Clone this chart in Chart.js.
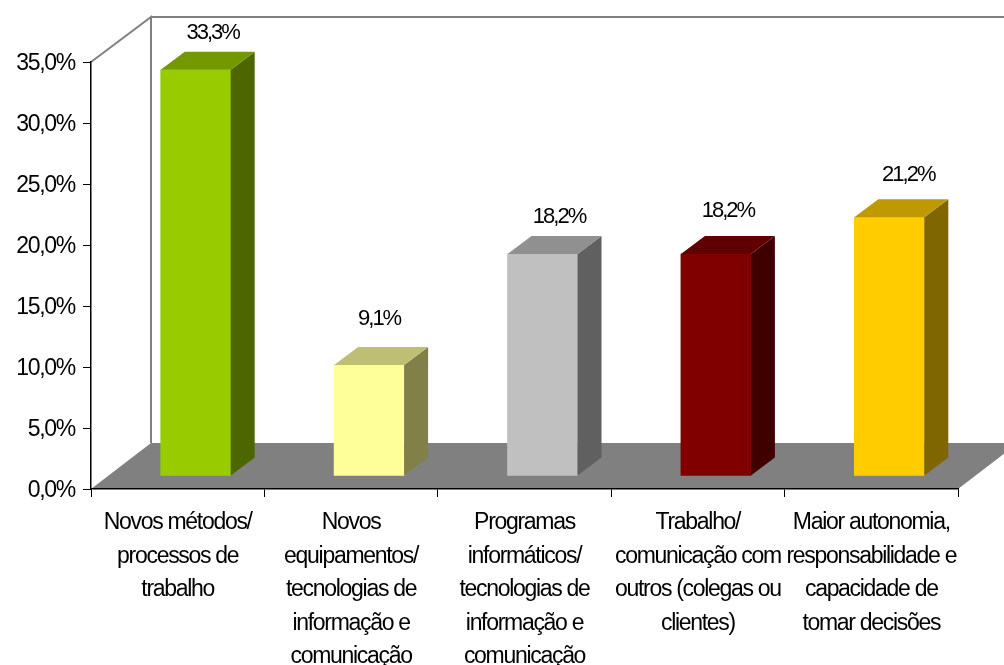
<!DOCTYPE html>
<html lang="pt">
<head>
<meta charset="utf-8">
<style>html,body{margin:0;padding:0;background:#fff}canvas{display:block}</style>
<script src="https://cdn.jsdelivr.net/npm/chart.js@4"></script>
</head>
<body>
<canvas id="c" width="1004" height="665"></canvas>
<script>
const categories = [
  ['Novos métodos/', 'processos de', 'trabalho'],
  ['Novos', 'equipamentos/', 'tecnologias de', 'informação e', 'comunicação'],
  ['Programas', 'informáticos/', 'tecnologias de', 'informação e', 'comunicação'],
  ['Trabalho/', 'comunicação com', 'outros (colegas ou', 'clientes)'],
  ['Maior autonomia,', 'responsabilidade e', 'capacidade de', 'tomar decisões']
];
const values = [33.3, 9.1, 18.2, 18.2, 21.2];
const valueLabels = ['33,3%', '9,1%', '18,2%', '18,2%', '21,2%'];
const frontColors = ['#99CC00', '#FFFF99', '#C0C0C0', '#800000', '#FFCC00'];
const topColors = ['#739900', '#BFBF73', '#909090', '#600000', '#BF9900'];
const sideColors = ['#4D6600', '#808048', '#606060', '#400000', '#806600'];
const labelLift = [37, 46, 37, 43, 42];
const labelShift = [17, 10, 16.5, 12, 19];

const FONT = '"Liberation Sans", Arial, sans-serif';
const DX = 60, DY = 46;          // chart box depth
const BAR_DX = 18, BAR_DY = -13; // bars stand in the middle of the floor
const SIDE_DX = 24, SIDE_DY = 18;  // bar depth

const box3d = {
  id: 'box3d',
  beforeDraw(chart) {
    const { ctx, chartArea: a } = chart;
    ctx.letterSpacing = '-1.3px';
    ctx.save();
    ctx.fillStyle = '#808080';
    ctx.beginPath();
    ctx.moveTo(a.left, a.bottom);
    ctx.lineTo(a.left + DX, a.bottom - DY);
    ctx.lineTo(a.right + DX, a.bottom - DY);
    ctx.lineTo(a.right, a.bottom);
    ctx.closePath();
    ctx.fill();
    ctx.strokeStyle = '#808080';
    ctx.lineWidth = 2;
    ctx.beginPath();
    ctx.moveTo(a.left, a.top);
    ctx.lineTo(a.left + DX, a.top - 45);
    ctx.lineTo(a.left + DX, a.bottom - DY);
    ctx.moveTo(a.left + DX, a.top - 45);
    ctx.lineTo(a.right + DX, a.top - 45);
    ctx.stroke();
    ctx.restore();
  },
  beforeDatasetDraw(chart) {
    chart.ctx.save();
    chart.ctx.translate(BAR_DX, BAR_DY);
  },
  afterDatasetDraw(chart, args) {
    const { ctx } = chart;
    args.meta.data.forEach((bar, i) => {
      const { x, y, base, width } = bar.getProps(['x', 'y', 'base', 'width']);
      const l = x - width / 2, r = x + width / 2;
      ctx.fillStyle = sideColors[i];
      ctx.beginPath();
      ctx.moveTo(r, y);
      ctx.lineTo(r + SIDE_DX, y - SIDE_DY);
      ctx.lineTo(r + SIDE_DX, base - SIDE_DY);
      ctx.lineTo(r, base);
      ctx.closePath();
      ctx.fill();
      ctx.fillStyle = topColors[i];
      ctx.beginPath();
      ctx.moveTo(l, y);
      ctx.lineTo(l + SIDE_DX, y - SIDE_DY);
      ctx.lineTo(r + SIDE_DX, y - SIDE_DY);
      ctx.lineTo(r, y);
      ctx.closePath();
      ctx.fill();
      ctx.fillStyle = '#000';
      ctx.font = '22px ' + FONT;
      ctx.letterSpacing = '-2px';
      ctx.textAlign = 'center';
      ctx.textBaseline = 'middle';
      ctx.fillText(valueLabels[i], x + labelShift[i], y - labelLift[i]);
    });
    ctx.restore();
  }
};

new Chart(document.getElementById('c'), {
  type: 'bar',
  plugins: [box3d],
  data: {
    labels: categories,
    datasets: [{
      data: values,
      backgroundColor: frontColors,
      borderWidth: 0,
      barThickness: 70,
      clip: false
    }]
  },
  options: {
    responsive: false,
    animation: false,
    layout: { padding: { top: 62, right: 46, left: 0, bottom: 0 } },
    plugins: { legend: { display: false }, tooltip: { enabled: false } },
    scales: {
      x: {
        offset: true,
        afterFit(s) { s.height = 176; },
        border: { color: '#000', width: 1.5 },
        grid: { drawOnChartArea: false, drawTicks: true, tickLength: 8, color: '#000', offset: true },
        ticks: {
          color: '#000', autoSkip: false, maxRotation: 0, minRotation: 0, padding: 9,
          font: { family: FONT, size: 23, lineHeight: 1.457 }
        }
      },
      y: {
        min: 0, max: 35,
        afterFit(s) { s.width = 91; },
        border: { color: '#000', width: 1.5 },
        grid: { drawOnChartArea: false, drawTicks: true, tickLength: 8, color: '#000' },
        ticks: {
          stepSize: 5, color: '#000', padding: 8, labelOffset: 1.5,
          font: { family: FONT, size: 23 },
          callback: v => v.toFixed(1).replace('.', ',') + '%'
        }
      }
    }
  }
});
</script>
</body>
</html>
